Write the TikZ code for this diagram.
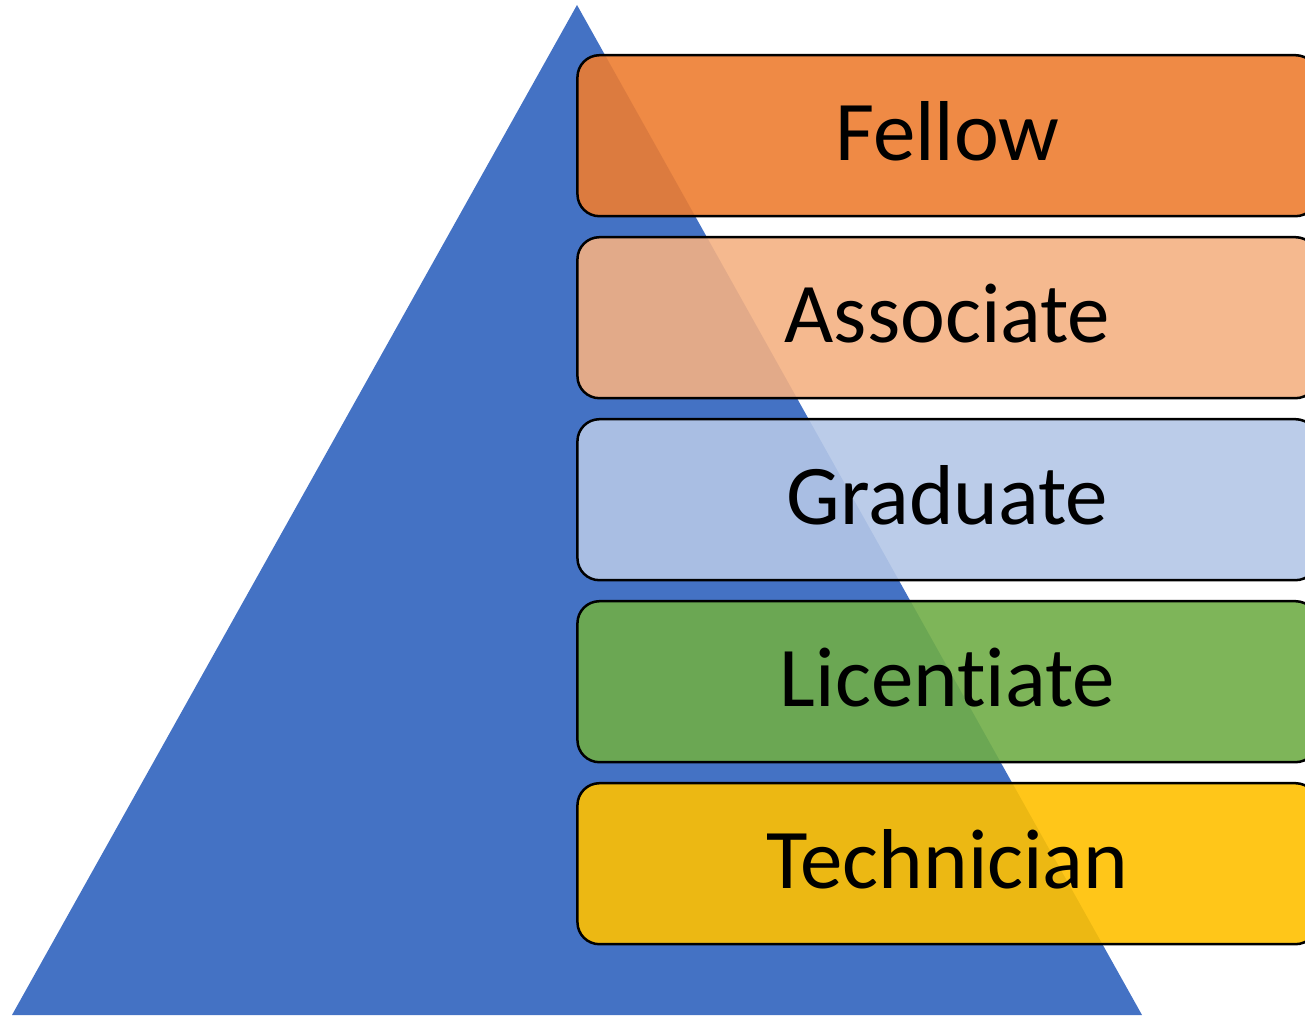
\documentclass[tikz,border=0pt]{standalone}
\usepackage{fontspec}
\setmainfont[Ligatures=NoCommon]{Carlito}
\usetikzlibrary{matrix}

\definecolor{pyramid}{HTML}{4472C4}
\definecolor{fellow}{HTML}{ED7D31}
\definecolor{associate}{HTML}{F4B183}
\definecolor{graduate}{HTML}{B4C7E7}
\definecolor{licentiate}{HTML}{70AD47}
\definecolor{technician}{HTML}{FFC000}

\tikzset{
  tier/.style={draw=black, line width=2.5pt, rounded corners=22pt,
    minimum width=740pt, minimum height=161pt, inner sep=0pt,
    fill opacity=0.9, text opacity=1, text height=49pt, text depth=0pt,
    font=\fontsize{85}{100}\selectfont}
}

\begin{document}
\begin{tikzpicture}[x=1pt,y=1pt]
			\useasboundingbox (0,0) rectangle (1305,1015);
			\clip (0,0) rectangle (1305,1015);
			% pyramid behind the tiers
			\fill[pyramid] (577,1010) -- (12,0) -- (1142,0) -- cycle;
			\matrix (m) [matrix of nodes,row sep=18.5pt,inner sep=0pt,anchor=north west,nodes={tier}] at (576,961.25)
			{
				|[fill=fellow]| Fellow\\
				|[fill=associate]| Associate\\
				|[fill=graduate]| Graduate\\
				|[fill=licentiate]| Licentiate\\
				|[fill=technician]| Technician\\};
		\end{tikzpicture}
\end{document}
